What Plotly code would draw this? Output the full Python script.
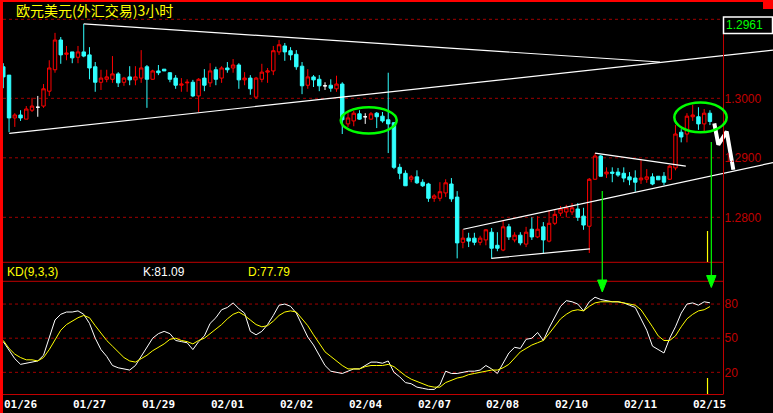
import plotly.graph_objects as go

W, H = 773, 413

title_text = "欧元美元(外汇交易)3小时"

opens = [1.3053, 1.3039, 1.2967, 1.2972, 1.2965, 1.2980, 1.2985, 1.2987, 1.3012, 1.3048,
         1.3098, 1.3074, 1.3078, 1.3069, 1.3078, 1.3073, 1.3053, 1.3027, 1.3032, 1.3032,
         1.3041, 1.3027, 1.3036, 1.3031, 1.3034, 1.3053, 1.3032, 1.3046, 1.3049, 1.3043,
         1.3034, 1.3022, 1.3026, 1.3027, 1.3004, 1.3034, 1.3026, 1.3048, 1.3034, 1.3051,
         1.3051, 1.3056, 1.3031, 1.3034, 1.3002, 1.3032, 1.3044, 1.3046, 1.3078, 1.3088,
         1.3080, 1.3074, 1.3054, 1.3022, 1.3036, 1.3032, 1.3021, 1.3022, 1.3016, 1.3024,
         1.2957, 1.2962, 1.2974, 1.2969, 1.2965, 1.2975, 1.2970, 1.2964, 1.2959, 1.2884,
         1.2874, 1.2864, 1.2868, 1.2859, 1.2856, 1.2832, 1.2832, 1.2841, 1.2856, 1.2834,
         1.2758, 1.2765, 1.2765, 1.2758, 1.2762, 1.2775, 1.2753, 1.2745, 1.2784, 1.2762,
         1.2770, 1.2755, 1.2780, 1.2767, 1.2784, 1.2760, 1.2790, 1.2807, 1.2809, 1.2809,
         1.2814, 1.2802, 1.2785, 1.2864, 1.2903, 1.2873, 1.2876, 1.2876, 1.2874, 1.2868,
         1.2866, 1.2863, 1.2864, 1.2868, 1.2869, 1.2869, 1.2864, 1.2883, 1.2943, 1.2940,
         1.2969, 1.2969, 1.2957, 1.2975]
highs = [1.3059, 1.3039, 1.2975, 1.2980, 1.2987, 1.3001, 1.3004, 1.3024, 1.3064, 1.3110,
         1.3103, 1.3088, 1.3078, 1.3088, 1.3125, 1.3086, 1.3061, 1.3048, 1.3048, 1.3071,
         1.3044, 1.3036, 1.3054, 1.3054, 1.3081, 1.3056, 1.3048, 1.3056, 1.3049, 1.3044,
         1.3039, 1.3034, 1.3032, 1.3031, 1.3034, 1.3049, 1.3059, 1.3053, 1.3054, 1.3061,
         1.3066, 1.3059, 1.3044, 1.3039, 1.3036, 1.3058, 1.3051, 1.3088, 1.3098, 1.3093,
         1.3086, 1.3081, 1.3061, 1.3049, 1.3039, 1.3039, 1.3027, 1.3032, 1.3038, 1.3027,
         1.2975, 1.2979, 1.2980, 1.2975, 1.2977, 1.2977, 1.2977, 1.3043, 1.2960, 1.2890,
         1.2879, 1.2871, 1.2879, 1.2864, 1.2858, 1.2839, 1.2859, 1.2864, 1.2866, 1.2844,
         1.2780, 1.2774, 1.2774, 1.2769, 1.2780, 1.2782, 1.2775, 1.2794, 1.2789, 1.2775,
         1.2775, 1.2784, 1.2800, 1.2802, 1.2792, 1.2812, 1.2814, 1.2819, 1.2821, 1.2824,
         1.2824, 1.2816, 1.2866, 1.2908, 1.2905, 1.2884, 1.2884, 1.2883, 1.2884, 1.2876,
         1.2879, 1.2896, 1.2881, 1.2874, 1.2869, 1.2876, 1.2888, 1.2955, 1.2948, 1.2975,
         1.2989, 1.2985, 1.2982, 1.2980]
lows = [1.3017, 1.2943, 1.2952, 1.2962, 1.2965, 1.2977, 1.2969, 1.2984, 1.3004, 1.3043,
        1.3058, 1.3064, 1.3059, 1.3059, 1.3069, 1.3032, 1.3011, 1.3014, 1.3027, 1.3026,
        1.3019, 1.3021, 1.3022, 1.3022, 1.3026, 1.2984, 1.3031, 1.3039, 1.3046, 1.3027,
        1.3016, 1.3011, 1.3011, 1.3002, 1.2977, 1.3012, 1.3019, 1.3022, 1.3026, 1.3043,
        1.3043, 1.3016, 1.3022, 1.3006, 1.2999, 1.3027, 1.3026, 1.3039, 1.3073, 1.3063,
        1.3064, 1.3048, 1.3007, 1.3016, 1.3019, 1.3012, 1.3014, 1.3011, 1.3011, 1.2940,
        1.2952, 1.2953, 1.2964, 1.2957, 1.2964, 1.2950, 1.2959, 1.2908, 1.2881, 1.2864,
        1.2853, 1.2859, 1.2856, 1.2851, 1.2826, 1.2826, 1.2827, 1.2834, 1.2826, 1.2731,
        1.2748, 1.2750, 1.2753, 1.2753, 1.2753, 1.2731, 1.2743, 1.2743, 1.2762, 1.2758,
        1.2753, 1.2750, 1.2762, 1.2765, 1.2740, 1.2758, 1.2787, 1.2802, 1.2800, 1.2804,
        1.2794, 1.2779, 1.2740, 1.2863, 1.2869, 1.2866, 1.2859, 1.2868, 1.2859, 1.2854,
        1.2843, 1.2856, 1.2858, 1.2854, 1.2863, 1.2854, 1.2863, 1.2879, 1.2926, 1.2926,
        1.2962, 1.2947, 1.2943, 1.2955]
closes = [1.3036, 1.2967, 1.2972, 1.2967, 1.2982, 1.2987, 1.2985, 1.3016, 1.3051, 1.3098,
          1.3073, 1.3076, 1.3068, 1.3078, 1.3071, 1.3051, 1.3027, 1.3034, 1.3036, 1.3041,
          1.3026, 1.3034, 1.3031, 1.3036, 1.3051, 1.3032, 1.3046, 1.3043, 1.3046, 1.3032,
          1.3022, 1.3024, 1.3027, 1.3004, 1.3032, 1.3022, 1.3046, 1.3032, 1.3051, 1.3048,
          1.3056, 1.3031, 1.3034, 1.3016, 1.3034, 1.3044, 1.3046, 1.3080, 1.3090, 1.3078,
          1.3073, 1.3053, 1.3021, 1.3036, 1.3031, 1.3021, 1.3021, 1.3017, 1.3024, 1.2964,
          1.2967, 1.2975, 1.2965, 1.2969, 1.2974, 1.2969, 1.2962, 1.2957, 1.2884, 1.2874,
          1.2853, 1.2868, 1.2858, 1.2853, 1.2832, 1.2836, 1.2843, 1.2858, 1.2831, 1.2757,
          1.2765, 1.2760, 1.2758, 1.2765, 1.2779, 1.2748, 1.2748, 1.2784, 1.2767, 1.2770,
          1.2757, 1.2775, 1.2767, 1.2780, 1.2762, 1.2790, 1.2805, 1.2814, 1.2816, 1.2816,
          1.2800, 1.2787, 1.2864, 1.2903, 1.2869, 1.2876, 1.2874, 1.2871, 1.2866, 1.2863,
          1.2859, 1.2866, 1.2868, 1.2856, 1.2863, 1.2859, 1.2886, 1.2940, 1.2935, 1.2970,
          1.2972, 1.2957, 1.2975, 1.2961]

k_values = [47, 39, 32, 27, 28, 29, 30, 35, 51, 66, 71, 73, 73, 74, 71, 63, 50, 40, 34, 26,
            24, 23, 22, 26, 34, 42, 50, 54, 56, 54, 48, 47, 46, 40, 47, 52, 63, 68, 75, 77,
            81, 76, 72, 56, 53, 56, 62, 70, 79, 80, 78, 72, 62, 51, 44, 35, 26, 21, 20, 19,
            21, 23, 23, 26, 29, 29, 28, 30, 20, 16, 11, 10, 7, 6, 5, 5, 9, 21, 19, 19,
            20, 21, 21, 22, 26, 23, 19, 28, 37, 42, 41, 49, 50, 55, 48, 59, 69, 78, 83, 82,
            80, 74, 82, 86, 84, 83, 82, 82, 81, 79, 77, 67, 57, 43, 40, 37, 50, 60, 72, 80,
            81, 79, 82, 81.09]
d_values = [48, 41, 36, 33, 31, 31, 30, 33, 40, 48, 57, 62, 65, 68, 70, 68, 61, 54, 48, 43,
            38, 33, 30, 29, 32, 35, 39, 42, 45, 49, 50, 48, 47, 45, 48, 50, 54, 58, 62, 67,
            71, 73, 70, 66, 62, 60, 61, 65, 70, 73, 74, 73, 67, 61, 53, 45, 38, 34, 30, 26,
            23, 23, 23, 25, 26, 26, 26, 27, 25, 21, 17, 14, 12, 10, 8, 7, 7, 11, 13, 15,
            16, 18, 19, 20, 21, 22, 22, 24, 27, 33, 38, 41, 44, 46, 48, 54, 61, 67, 71, 74,
            75, 74, 78, 81, 82, 82, 82, 82, 81, 80, 79, 75, 68, 60, 52, 48, 48, 52, 60, 67,
            71, 74, 75, 77.79]

date_labels = ["01/26", "01/27", "01/29", "02/01", "02/02", "02/04", "02/07",
               "02/08", "02/10", "02/11", "02/15"]
date_positions = [0, 12, 24, 36, 48, 60, 72, 84, 96, 108, 120]

price_ticks = [1.30, 1.29, 1.28]
price_tick_text = ["1.3000", "1.2900", "1.2800"]
kd_ticks = [20, 50, 80]
kd_tick_text = ["20", "50", "80"]
last_price_text = "1.2961"
kd_title = "KD(9,3,3)"
k_last = 81.09
d_last = 77.79

# hand-drawn analysis lines (candle index, price)
trend_top_x, trend_top_y = [14, 114.3], [1.3125, 1.3061]
trend_long_x, trend_long_y = [1.04, 133.98], [1.2941, 1.3081]
channel_up_x, channel_up_y = [80.07, 133.98], [1.2780, 1.2892]
channel_low_x, channel_low_y = [84.94, 102.1], [1.2731, 1.2747]
flag_top_x, flag_top_y = [103, 118.8], [1.2908, 1.2886]
zigzag_x = [123.76, 124.46, 125.92, 127.07]
zigzag_y = [1.2958, 1.2922, 1.2944, 1.2880]

# ---------------------------------------------------------------------------
def py(p):
    return 1 - p / H

def pxx(p):
    return p / W

X0 = (0 - 3.3) / 5.745
X1 = (W - 3.3) / 5.745
P_LO, P_HI = 1.27244, 1.31328

RED = "#ff0000"
GRID = "#a00000"
CYAN = "#30ffff"

fig = go.Figure()

idx = list(range(len(opens)))
groups = [
    ([i for i in idx if closes[i] > opens[i]], RED, "#000000"),
    ([i for i in idx if closes[i] < opens[i]], CYAN, CYAN),
    ([i for i in idx if closes[i] == opens[i]], "#ffffff", "#ffffff"),
]
for ids, col, fill in groups:
    fig.add_trace(go.Candlestick(
        x=ids,
        open=[opens[i] for i in ids], high=[highs[i] for i in ids],
        low=[lows[i] for i in ids], close=[closes[i] for i in ids],
        increasing=dict(line=dict(color=col, width=1), fillcolor=fill),
        decreasing=dict(line=dict(color=col, width=1), fillcolor=fill),
        whiskerwidth=0, showlegend=False, xaxis="x", yaxis="y", hoverinfo="skip"))

for lx, ly in [(trend_top_x, trend_top_y), (trend_long_x, trend_long_y),
               (channel_up_x, channel_up_y), (channel_low_x, channel_low_y),
               (flag_top_x, flag_top_y)]:
    fig.add_trace(go.Scatter(x=lx, y=ly, mode="lines", line=dict(color="#ffffff", width=1.2),
                             showlegend=False, hoverinfo="skip", xaxis="x", yaxis="y"))
fig.add_trace(go.Scatter(x=zigzag_x, y=zigzag_y, mode="lines",
                         line=dict(color="#ffffff", width=4), showlegend=False,
                         hoverinfo="skip", xaxis="x", yaxis="y"))

fig.add_trace(go.Scatter(x=idx, y=k_values, mode="lines", line=dict(color="#ffffff", width=1),
                         showlegend=False, hoverinfo="skip", xaxis="x2", yaxis="y2"))
fig.add_trace(go.Scatter(x=idx, y=d_values, mode="lines", line=dict(color="#ffff00", width=1),
                         showlegend=False, hoverinfo="skip", xaxis="x2", yaxis="y2"))

shapes = []
# borders
shapes.append(dict(type="rect", xref="paper", yref="paper", x0=0, x1=pxx(3), y0=0, y1=1,
                   fillcolor=RED, line=dict(width=0), layer="above"))
shapes.append(dict(type="rect", xref="paper", yref="paper", x0=0, x1=1, y0=py(2), y1=1,
                   fillcolor=RED, line=dict(width=0)))
shapes.append(dict(type="rect", xref="paper", yref="paper", x0=pxx(763), x1=1, y0=py(9), y1=1,
                   fillcolor=RED, line=dict(width=0)))
# dashed top line
shapes.append(dict(type="line", xref="paper", yref="paper", x0=pxx(3), x1=pxx(723),
                   y0=py(19.3), y1=py(19.3), line=dict(color=GRID, width=1, dash="3px,3px"),
                   layer="below"))
for v in price_ticks:
    shapes.append(dict(type="line", xref="paper", yref="y", x0=pxx(3), x1=pxx(723), y0=v, y1=v,
                       line=dict(color=GRID, width=1, dash="3px,3px"), layer="below"))
for v in kd_ticks:
    shapes.append(dict(type="line", xref="paper", yref="y2", x0=pxx(3), x1=pxx(723), y0=v, y1=v,
                       line=dict(color=GRID, width=1, dash="3px,3px"), layer="below"))
for yy in [262.3, 281.3, 394.5]:
    shapes.append(dict(type="line", xref="paper", yref="paper", x0=pxx(3), x1=pxx(723),
                       y0=py(yy), y1=py(yy), line=dict(color="#c00000", width=1)))
shapes.append(dict(type="line", xref="paper", yref="paper", x0=pxx(723.5), x1=pxx(723.5),
                   y0=py(19.3), y1=py(394.5), line=dict(color="#c00000", width=1)))
# last price box
shapes.append(dict(type="rect", xref="paper", yref="paper", x0=pxx(723.5), x1=pxx(772.5),
                   y0=py(33.5), y1=py(17), fillcolor="#000000",
                   line=dict(color="#ffffff", width=1.5)))
# ellipses
shapes.append(dict(type="circle", xref="x", yref="y", x0=58.73, x1=68.48, y0=1.2941, y1=1.2985,
                   line=dict(color="#00ff00", width=2.5)))
shapes.append(dict(type="circle", xref="x", yref="y", x0=116.8, x1=125.92, y0=1.2943, y1=1.2993,
                   line=dict(color="#00ff00", width=2.5)))
# green arrows
for ax_i, ytop, ytip in [(104.26, 191, 292), (123.24, 142, 287.5)]:
    shapes.append(dict(type="line", xref="x", yref="paper", x0=ax_i, x1=ax_i,
                       y0=py(ytop), y1=py(ytip - 8), line=dict(color="#00ff00", width=1.2)))
    hw = 4.7 / 5.745
    shapes.append(dict(type="path", xref="x", yref="paper",
                       path=f"M {ax_i - hw},{py(ytip - 12)} L {ax_i + hw},{py(ytip - 12)} "
                            f"L {ax_i},{py(ytip)} Z",
                       fillcolor="#00ff00", line=dict(color="#00ff00", width=1)))
# yellow marker
for y0p, y1p in [(231, 262), (378, 394)]:
    shapes.append(dict(type="line", xref="x", yref="paper", x0=122.58, x1=122.58,
                       y0=py(y0p), y1=py(y1p), line=dict(color="#ffff00", width=1.2)))

annotations = []
annotations.append(dict(text=title_text, xref="paper", yref="paper", x=pxx(15), y=py(9.5),
                        xanchor="left", yanchor="middle", showarrow=False, borderpad=0,
                        font=dict(family="Noto Sans CJK SC", size=14, color="#ffff00")))
annotations.append(dict(text=last_price_text, xref="paper", yref="paper", x=pxx(744), y=py(25.5),
                        xanchor="center", yanchor="middle", showarrow=False,
                        font=dict(family="Liberation Sans", size=12, color="#00ff00")))
annotations.append(dict(text=kd_title, xref="paper", yref="paper", x=pxx(5), y=py(271.5),
                        xanchor="left", yanchor="middle", showarrow=False,
                        font=dict(family="Liberation Sans", size=12, color="#ffff00")))
annotations.append(dict(text=f"K:{k_last:.2f}", xref="paper", yref="paper", x=pxx(141), y=py(271.5),
                        xanchor="left", yanchor="middle", showarrow=False,
                        font=dict(family="Liberation Sans", size=12, color="#ffffff")))
annotations.append(dict(text=f"D:{d_last:.2f}", xref="paper", yref="paper", x=pxx(246), y=py(271.5),
                        xanchor="left", yanchor="middle", showarrow=False,
                        font=dict(family="Liberation Sans", size=12, color="#ffff00")))
for lab, pos in zip(date_labels, date_positions):
    annotations.append(dict(text=lab, xref="x", yref="paper", x=pos - 0.25, y=py(404.5),
                            xanchor="left", yanchor="middle", showarrow=False,
                            font=dict(family="DejaVu Sans Mono", size=11, color="#ffffff",
                                      weight="bold")))

fig.update_layout(
    width=W, height=H, margin=dict(l=0, r=0, t=0, b=0),
    paper_bgcolor="#000000", plot_bgcolor="#000000",
    boxgap=0.3, boxgroupgap=0.15,
    shapes=shapes, annotations=annotations, showlegend=False,
    xaxis=dict(domain=[0, 1], range=[X0, X1], anchor="y", visible=False,
               rangeslider=dict(visible=False), fixedrange=True),
    xaxis2=dict(domain=[0, 1], range=[X0, X1], anchor="y2", matches="x", visible=False),
    yaxis=dict(domain=[py(262.3), py(19.3)], range=[P_LO, P_HI], anchor="free",
               position=723.5 / W, side="right", showgrid=False, zeroline=False,
               showline=False, ticks="", tickvals=price_ticks, ticktext=price_tick_text,
               tickfont=dict(family="Liberation Sans", size=12, color="#c00000")),
    yaxis2=dict(domain=[py(395.1), py(281.3)], range=[0, 100], anchor="free",
                position=723.5 / W, side="right", showgrid=False, zeroline=False,
                showline=False, ticks="", tickvals=kd_ticks, ticktext=kd_tick_text,
                tickfont=dict(family="Liberation Sans", size=12, color="#c00000")),
)

fig.write_html("out.html", config={"displayModeBar": False},
               post_script="document.body.style.margin='0';")
